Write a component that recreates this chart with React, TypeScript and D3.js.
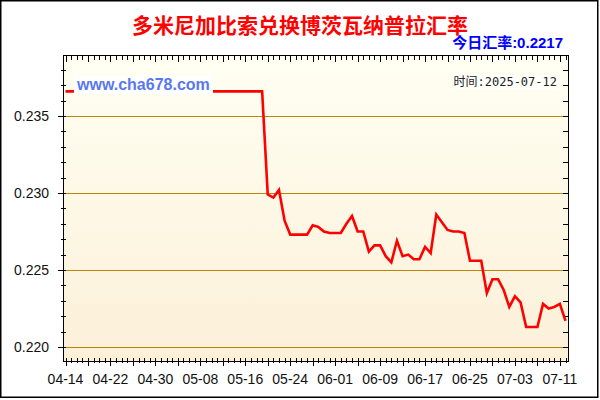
import { useRef, useEffect } from "react";
import * as d3 from "d3";

const title = "多米尼加比索兑换博茨瓦纳普拉汇率";
const todayRate = "0.2217";
const updated = "2025-07-12";
const site = "www.cha678.com";

// one value per day, starting 2025-04-14
const startDay = "2025-04-14";
const rates = [
  0.2366, 0.2366, 0.2366, 0.2366, 0.2366, 0.2366, 0.2366, 0.2366, 0.2366,
  0.2366, 0.2366, 0.2366, 0.2366, 0.2366, 0.2366, 0.2366, 0.2366, 0.2366,
  0.2366, 0.2366, 0.2366, 0.2366, 0.2366, 0.2366, 0.2366, 0.2366, 0.2366,
  0.2366, 0.2366, 0.2366, 0.2366, 0.2366, 0.2366, 0.2366, 0.2366, 0.2366,
  0.2299, 0.2297, 0.2302, 0.2282, 0.2273, 0.2273, 0.2273, 0.2273, 0.2279,
  0.2278, 0.2275, 0.2274, 0.2274, 0.2274, 0.228, 0.2285, 0.2275, 0.2275,
  0.2262, 0.2266, 0.2266, 0.2259, 0.2255, 0.2269, 0.2259, 0.226, 0.2257,
  0.2257, 0.2265, 0.2261, 0.2286, 0.2281, 0.2276, 0.2275, 0.2275, 0.2274,
  0.2256, 0.2256, 0.2256, 0.2235, 0.2244, 0.2244, 0.2237, 0.2226, 0.2233,
  0.2229, 0.2213, 0.2213, 0.2213, 0.2228, 0.2225, 0.2226, 0.2228, 0.2217,
];

const xLabels = [
  "04-14", "04-22", "04-30", "05-08", "05-16", "05-24",
  "06-01", "06-09", "06-17", "06-25", "07-03", "07-11",
];
const yLabels = [0.22, 0.225, 0.23, 0.235];

function RateChart({ width, height }: { width: number; height: number }) {
  const ref = useRef<SVGSVGElement | null>(null);

  useEffect(() => {
    if (!ref.current) return;
    const svg = d3.select(ref.current).html("");

    // plot frame
    const frame = { left: 63, right: 568, top: 55, bottom: 361 };
    const font = "'Liberation Sans', Arial, 'Noto Sans CJK SC', sans-serif";

    const t0 = d3.timeParse("%Y-%m-%d")(startDay) as Date;
    const data = rates.map((v, i) => ({ date: d3.timeDay.offset(t0, i), value: v }));
    const tLast = data[data.length - 1].date;
    const fmt = d3.timeFormat("%m-%d");

    const x = d3.scaleTime().domain([t0, tLast]).range([65.5, 565.5]);
    const y = d3.scaleLinear().domain([0.22, 0.235]).range([347, 116]);

    // background
    const grad = svg
      .append("defs")
      .append("linearGradient")
      .attr("id", "bg")
      .attr("x1", 0)
      .attr("y1", 0)
      .attr("x2", 0)
      .attr("y2", 1);
    grad.append("stop").attr("offset", "0%").attr("stop-color", "#fffff3");
    grad.append("stop").attr("offset", "100%").attr("stop-color", "#fcf0d8");

    svg
      .append("rect")
      .attr("width", width)
      .attr("height", height)
      .attr("fill", "#fff");

    svg
      .append("rect")
      .attr("x", frame.left)
      .attr("y", frame.top)
      .attr("width", frame.right - frame.left)
      .attr("height", frame.bottom - frame.top)
      .attr("fill", "url(#bg)");

    // grid lines
    svg
      .append("g")
      .selectAll("line")
      .data(yLabels)
      .join("line")
      .attr("x1", frame.left)
      .attr("x2", frame.right)
      .attr("y1", (d) => Math.round(y(d)) + 0.5)
      .attr("y2", (d) => Math.round(y(d)) + 0.5)
      .attr("stroke", "#b8860b")
      .attr("stroke-width", 1);

    // ticks
    const ticks = svg.append("g").attr("stroke", "#000").attr("stroke-width", 1);
    const yMinor = d3
      .range(219, 240)
      .map((d) => d / 1000)
      .filter((d) => y(d) > frame.top + 1 && y(d) < frame.bottom - 1);
    yMinor.forEach((v) => {
      const yy = Math.round(y(v)) + 0.5;
      const major = yLabels.some((m) => Math.abs(m - v) < 1e-9);
      ticks
        .append("line")
        .attr("x1", major ? frame.left - 5 : frame.left - 2)
        .attr("x2", frame.left + 3)
        .attr("y1", yy)
        .attr("y2", yy);
      ticks
        .append("line")
        .attr("x1", frame.right - 5)
        .attr("x2", frame.right)
        .attr("y1", yy)
        .attr("y2", yy);
    });

    const days = d3.timeDay.range(t0, d3.timeDay.offset(tLast, 1));
    days.forEach((d, i) => {
      const xx = Math.round(x(d)) + 0.5;
      const major = i % 4 === 0;
      ticks
        .append("line")
        .attr("x1", xx)
        .attr("x2", xx)
        .attr("y1", frame.bottom - 3)
        .attr("y2", major ? frame.bottom + 5 : frame.bottom + 2);
      ticks
        .append("line")
        .attr("x1", xx)
        .attr("x2", xx)
        .attr("y1", frame.top)
        .attr("y2", major ? frame.top + 7 : frame.top + 5);
    });

    // frame border
    svg
      .append("rect")
      .attr("x", frame.left + 0.5)
      .attr("y", frame.top + 0.5)
      .attr("width", frame.right - frame.left)
      .attr("height", frame.bottom - frame.top)
      .attr("fill", "none")
      .attr("stroke", "#000");

    // axis labels
    svg
      .append("g")
      .selectAll("text")
      .data(yLabels)
      .join("text")
      .attr("x", 49)
      .attr("y", (d) => y(d) + 5)
      .attr("text-anchor", "end")
      .style("font-family", font)
      .style("font-size", "14px")
      .attr("fill", "#111")
      .text((d) => d3.format(".3f")(d));

    const labelDays = days.filter((d) => xLabels.includes(fmt(d)));
    svg
      .append("g")
      .selectAll("text")
      .data(labelDays)
      .join("text")
      .attr("x", (d) => x(d))
      .attr("y", 384)
      .attr("text-anchor", "middle")
      .style("font-family", font)
      .style("font-size", "14px")
      .attr("fill", "#111")
      .text((d) => fmt(d));

    // rate line
    const line = d3
      .line<{ date: Date; value: number }>()
      .x((d) => x(d.date))
      .y((d) => y(d.value));
    svg
      .append("path")
      .datum(data)
      .attr("fill", "none")
      .attr("stroke", "#ff0000")
      .attr("stroke-width", 2.6)
      .attr("d", line);

    // watermark
    svg
      .append("rect")
      .attr("x", 74)
      .attr("y", 76)
      .attr("width", 139)
      .attr("height", 18)
      .attr("fill", "#fff");
    svg
      .append("text")
      .attr("x", 77)
      .attr("y", 90)
      .style("font-family", font)
      .style("font-size", "16px")
      .style("font-weight", "bold")
      .attr("fill", "#5a78ee")
      .text(site);

    // date stamp
    svg
      .append("rect")
      .attr("x", 453)
      .attr("y", 75)
      .attr("width", 105)
      .attr("height", 14)
      .attr("fill", "#fffffc");
    svg
      .append("text")
      .attr("x", 557)
      .attr("y", 86)
      .attr("text-anchor", "end")
      .style("font-family", "'DejaVu Sans Mono', 'Noto Sans CJK SC', monospace")
      .style("font-size", "12px")
      .attr("fill", "#222")
      .text(`时间:${updated}`);

    // titles
    svg
      .append("text")
      .attr("x", 300)
      .attr("y", 33)
      .attr("text-anchor", "middle")
      .style("font-family", "'Noto Sans CJK SC', sans-serif")
      .style("font-size", "21px")
      .style("font-weight", "bold")
      .attr("fill", "#ff0000")
      .text(title);

    svg
      .append("text")
      .attr("x", 563)
      .attr("y", 47.5)
      .attr("text-anchor", "end")
      .style("font-family", font)
      .style("font-size", "15px")
      .style("font-weight", "bold")
      .attr("fill", "#0000ff")
      .text(`今日汇率:${todayRate}`);

    // outer border
    svg
      .append("rect")
      .attr("x", 0.75)
      .attr("y", 0.75)
      .attr("width", 597)
      .attr("height", 396.5)
      .attr("fill", "none")
      .attr("stroke", "#000")
      .attr("stroke-width", 1.5);
  }, [width, height]);

  return (
    <svg
      ref={ref}
      width={width}
      height={height}
      style={{ position: "absolute", left: 0, top: 0 }}
    ></svg>
  );
}

export default function App() {
  return <RateChart width={600} height={400} />;
}
